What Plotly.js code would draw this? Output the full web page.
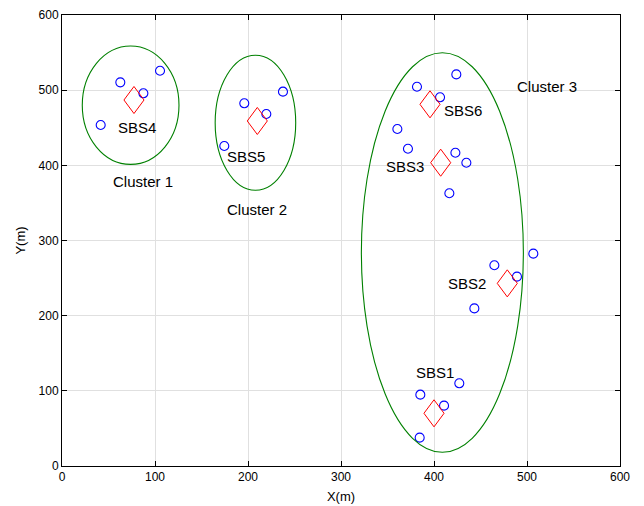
<!DOCTYPE html>
<html><head><meta charset="utf-8">
<script src="https://cdn.plot.ly/plotly-3.0.1.min.js"></script>
<style>html,body{margin:0;padding:0;background:#fff}#plot{width:644px;height:506px}</style>
</head><body><div id="plot"></div>
<script>
// User positions
var userX = [41.6, 62.7, 87.5, 105.4, 174.5, 196.0, 219.7, 237.6, 381.7, 424.0, 406.5, 360.6, 372.0, 423.0, 434.8, 416.5, 506.8, 464.9, 489.2, 443.4, 427.2, 385.3, 410.8, 384.6];
var userY = [453.6, 510.4, 495.8, 525.9, 425.7, 482.5, 468.3, 498.0, 504.6, 521.0, 490.5, 448.3, 422.0, 416.8, 403.5, 362.8, 282.5, 267.0, 251.9, 209.7, 110.0, 94.9, 80.3, 37.7];
// Small base stations
var sbsNames = ["SBS1", "SBS2", "SBS3", "SBS4", "SBS5", "SBS6"];
var sbsX = [400.0, 478.8, 407.2, 77.4, 210.0, 395.7];
var sbsY = [70.1, 243.0, 403.5, 486.9, 459.0, 481.2];
var sbsLabelX = [401, 435.5, 368.8, 80.6, 197.8, 431];
var sbsLabelY = [125, 243.4, 397.8, 450, 412.4, 473.6];
// Clusters (ellipses)
var clusterNames = ["Cluster 1", "Cluster 2", "Cluster 3"];
var clusterCx = [73.8, 208.0, 409.0];
var clusterCy = [480.0, 456.6, 284.0];
var clusterRx = [52.0, 43.3, 87.1];
var clusterRy = [78.7, 89.8, 265.8];
var clusterLabelX = [87, 209.7, 521.5];
var clusterLabelY = [379, 340.6, 505.5];
var tickVals = [0, 100, 200, 300, 400, 500, 600];

var dHalfW = 10.8, dHalfH = 18.0; // diamond half sizes in data units (style)
var dx = [], dy = [];
for (var i = 0; i < sbsX.length; i++) {
  dx.push(sbsX[i], sbsX[i] + dHalfW, sbsX[i], sbsX[i] - dHalfW, sbsX[i], null);
  dy.push(sbsY[i] + dHalfH, sbsY[i], sbsY[i] - dHalfH, sbsY[i], sbsY[i] + dHalfH, null);
}

var traces = [
  {x: userX, y: userY, type: 'scatter', mode: 'markers',
   marker: {symbol: 'circle-open', size: 9, color: '#0000ff', line: {width: 1.1, color: '#0000ff'}},
   hoverinfo: 'x+y', showlegend: false},
  {x: dx, y: dy, type: 'scatter', mode: 'lines', line: {color: '#ff0000', width: 1}, showlegend: false, hoverinfo: 'skip'}
];

var shapes = [];
for (var c = 0; c < clusterCx.length; c++) {
  shapes.push({type: 'circle', xref: 'x', yref: 'y',
    x0: clusterCx[c] - clusterRx[c], x1: clusterCx[c] + clusterRx[c],
    y0: clusterCy[c] - clusterRy[c], y1: clusterCy[c] + clusterRy[c],
    line: {color: '#008000', width: 1.1}, layer: 'above'});
}

var annotations = [];
var labFont = {family: 'Liberation Sans, Arial, sans-serif', size: 15, color: '#000'};
for (var s = 0; s < sbsNames.length; s++) {
  annotations.push({x: sbsLabelX[s], y: sbsLabelY[s], text: sbsNames[s], showarrow: false, font: labFont, xref: 'x', yref: 'y'});
}
for (var k = 0; k < clusterNames.length; k++) {
  annotations.push({x: clusterLabelX[k], y: clusterLabelY[k], text: clusterNames[k], showarrow: false, font: labFont, xref: 'x', yref: 'y'});
}

var axFont = {family: 'Liberation Sans, Arial, sans-serif', size: 12, color: '#000'};
var layout = {
  width: 644, height: 506,
  margin: {l: 62, r: 24, t: 15, b: 40},
  paper_bgcolor: '#fff', plot_bgcolor: '#fff',
  showlegend: false,
  font: axFont,
  xaxis: {range: [0, 600], tickvals: tickVals, ticktext: tickVals.map(String),
    showgrid: true, gridcolor: '#e0e0e0', gridwidth: 1, zeroline: false,
    showline: true, linecolor: '#000', linewidth: 1, mirror: 'ticks',
    ticks: 'inside', ticklen: 5, tickcolor: '#000', tickfont: axFont,
    title: {text: 'X(m)', font: {family: 'Liberation Sans, Arial, sans-serif', size: 13, color: '#000'}, standoff: 8}},
  yaxis: {range: [0, 600], tickvals: tickVals, ticktext: tickVals.map(String),
    showgrid: true, gridcolor: '#e0e0e0', gridwidth: 1, zeroline: false,
    showline: true, linecolor: '#000', linewidth: 1, mirror: 'ticks',
    ticks: 'inside', ticklen: 5, tickcolor: '#000', tickfont: axFont,
    title: {text: 'Y(m)', font: {family: 'Liberation Sans, Arial, sans-serif', size: 13, color: '#000'}, standoff: 10}},
  shapes: shapes,
  annotations: annotations
};

Plotly.newPlot('plot', traces, layout, {displayModeBar: false, staticPlot: true});
</script>
</body></html>
